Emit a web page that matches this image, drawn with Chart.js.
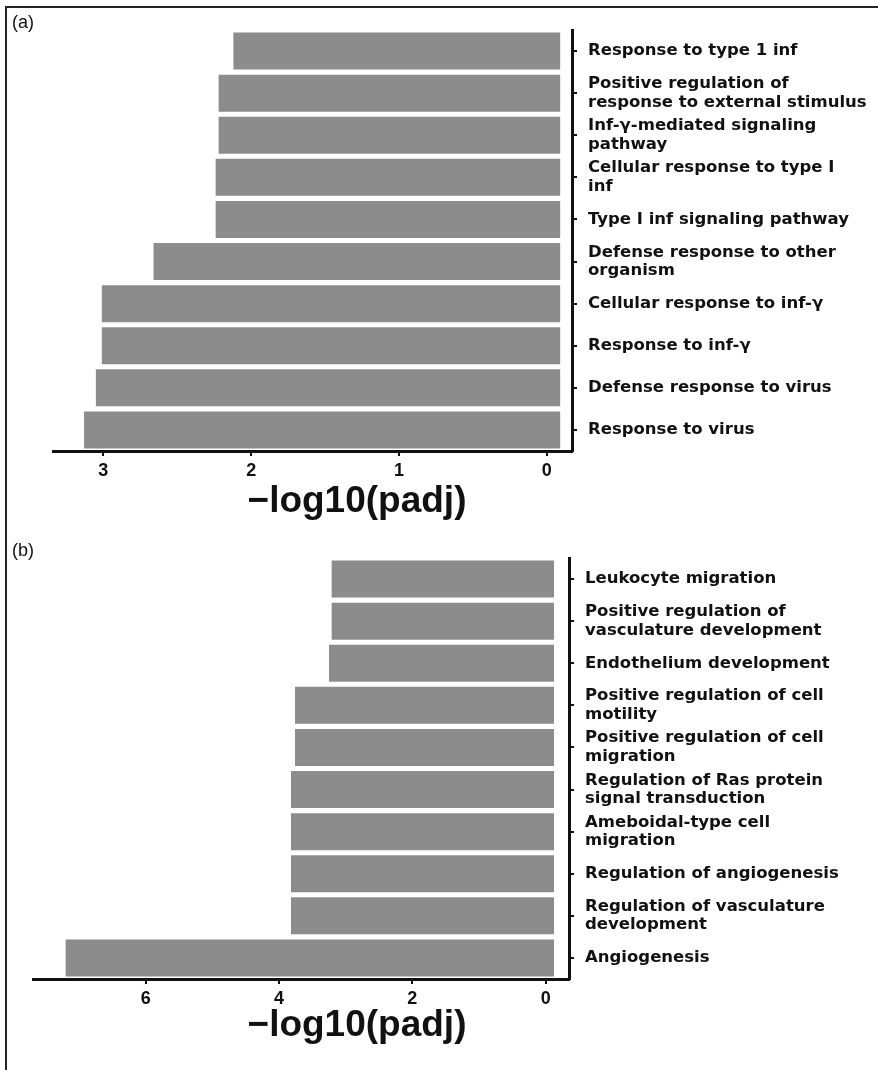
<!DOCTYPE html>
<html>
<head>
<meta charset="utf-8">
<script src="https://cdn.jsdelivr.net/npm/chart.js@4.4.1/dist/chart.umd.min.js"></script>
<style>
  body { margin: 0; background: #fff; width: 878px; height: 1070px; position: relative; overflow: hidden; }
  .frame { position: absolute; left: 5px; top: 6px; width: 900px; height: 1100px; border-top: 2px solid #222; border-left: 2px solid #222; }
  .tag { position: absolute; left: 12px; font-family: "Liberation Sans", Arial, sans-serif; font-size: 18px; color: #111; }
  .panel { position: absolute; left: 0; width: 878px; }
</style>
</head>
<body>
<div class="frame"></div>
<div class="panel" style="top:0;height:525px"><canvas id="chartA" width="878" height="525"></canvas></div>
<div class="panel" style="top:525px;height:545px"><canvas id="chartB" width="878" height="545"></canvas></div>
<div class="tag" style="top:12px">(a)</div>
<div class="tag" style="top:540px">(b)</div>

<script>
// Panel (a) data, top bar first
const termsA = [
  'Response to type 1 inf',
  ['Positive regulation of', 'response to external stimulus'],
  ['Inf-γ-mediated signaling', 'pathway'],
  ['Cellular response to type I', 'inf'],
  'Type I inf signaling pathway',
  ['Defense response to other', 'organism'],
  'Cellular response to inf-γ',
  'Response to inf-γ',
  'Defense response to virus',
  'Response to virus'
];
const valuesA = [2.12, 2.22, 2.22, 2.24, 2.24, 2.66, 3.01, 3.01, 3.05, 3.13];
const ticksA = [0, 1, 2, 3];

// Panel (b) data
const termsB = [
  'Leukocyte migration',
  ['Positive regulation of', 'vasculature development'],
  'Endothelium development',
  ['Positive regulation of cell', 'motility'],
  ['Positive regulation of cell', 'migration'],
  ['Regulation of Ras protein', 'signal transduction'],
  ['Ameboidal-type cell', 'migration'],
  'Regulation of angiogenesis',
  ['Regulation of vasculature', 'development'],
  'Angiogenesis'
];
const valuesB = [3.21, 3.21, 3.25, 3.76, 3.76, 3.82, 3.82, 3.82, 3.82, 7.2];
const ticksB = [0, 2, 4, 6];

const axisTitle = '\u2212log10(padj)';

// draws the big x axis title under the plot
const xTitlePlugin = {
  id: 'xTitle',
  afterDraw(chart, args, opts) {
    const ctx = chart.ctx;
    ctx.save();
    ctx.font = 'bold 37px "Liberation Sans", Arial, sans-serif';
    ctx.fillStyle = '#111';
    ctx.textAlign = 'center';
    ctx.textBaseline = 'alphabetic';
    ctx.fillText(opts.text, opts.x, chart.chartArea.bottom + opts.dy);
    ctx.restore();
  }
};

function makeChart(id, terms, values, tickVals, cfg) {
  const ctx = document.getElementById(id).getContext('2d');
  return new Chart(ctx, {
    type: 'bar',
    data: {
      labels: terms,
      datasets: [{
        data: values,
        base: cfg.base,
        backgroundColor: '#8c8c8c',
        borderWidth: 0,
        barPercentage: 0.88,
        categoryPercentage: 1
      }]
    },
    options: {
      indexAxis: 'y',
      responsive: false,
      animation: false,
      devicePixelRatio: 1,
      layout: { padding: { left: cfg.left, top: cfg.top, right: 0, bottom: 0 } },
      plugins: {
        legend: { display: false },
        tooltip: { enabled: false },
        xTitle: { text: axisTitle, x: 357, dy: cfg.titleDy }
      },
      scales: {
        x: {
          type: 'linear',
          reverse: true,
          min: cfg.min,
          max: cfg.max,
          afterBuildTicks: scale => { scale.ticks = tickVals.map(v => ({ value: v })); },
          afterFit: scale => { scale.height = cfg.xHeight; },
          border: { display: true, color: '#111', width: 3 },
          grid: { display: true, drawOnChartArea: false, drawTicks: true, tickLength: 5, tickColor: '#111', lineWidth: 2 },
          ticks: {
            color: '#111',
            padding: 4,
            maxRotation: 0,
            font: { family: '"Liberation Sans", Arial, sans-serif', size: 18, weight: 'bold' }
          }
        },
        y: {
          position: 'right',
          afterFit: scale => { scale.width = cfg.yWidth; },
          border: { display: true, color: '#111', width: 3 },
          grid: { display: true, offset: false, drawOnChartArea: false, drawTicks: true, tickLength: 5, tickColor: '#111', lineWidth: 2 },
          ticks: {
            color: '#111',
            padding: 11,
            autoSkip: false,
            font: { family: '"DejaVu Sans", sans-serif', size: 16.5, weight: 'bold', lineHeight: 1.12 }
          }
        }
      }
    },
    plugins: [xTitlePlugin]
  });
}

makeChart('chartA', termsA, valuesA, ticksA, {
  base: -0.09, min: -0.17, max: 3.34, left: 53, top: 30, yWidth: 306, xHeight: 74, titleDy: 61
});
makeChart('chartB', termsB, valuesB, ticksB, {
  base: -0.125, min: -0.35, max: 7.69, left: 33, top: 33, yWidth: 309, xHeight: 91, titleDy: 57
});
</script>
</body>
</html>
